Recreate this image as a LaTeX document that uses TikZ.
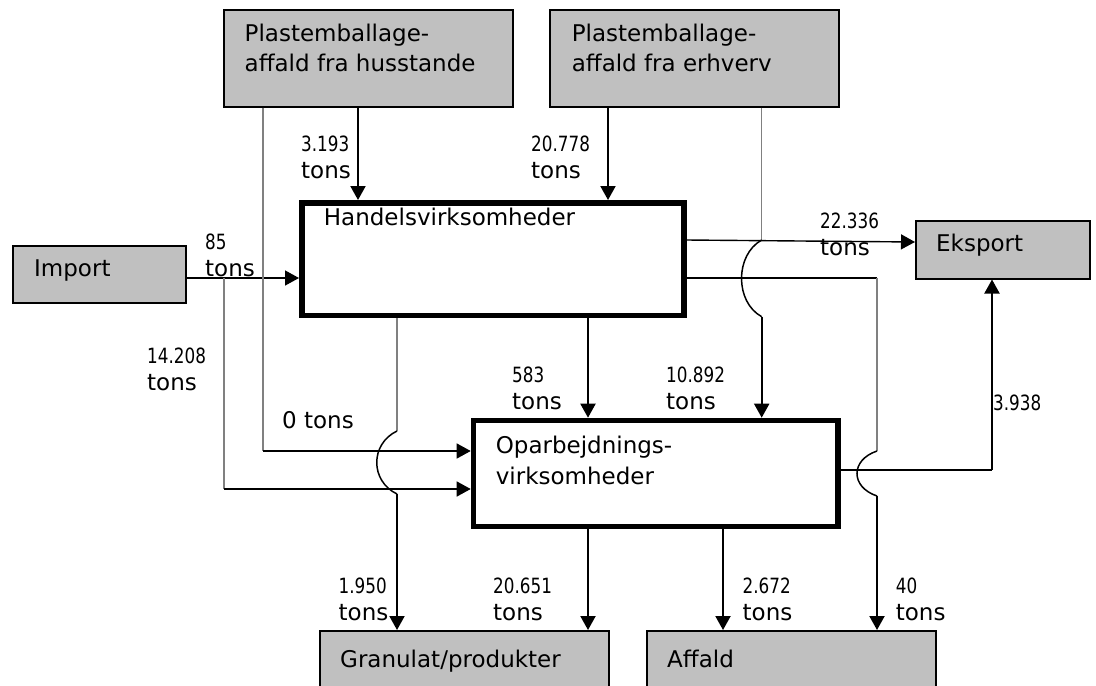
\documentclass[tikz,border=0pt]{standalone}
\usepackage{fontspec}
\setmainfont{DejaVu Sans}
\newfontfamily\numfont[FakeStretch=0.8]{DejaVu Sans}
\usetikzlibrary{arrows.meta,calc}
\definecolor{boxgray}{HTML}{C0C0C0}
\definecolor{linegray}{HTML}{808080}
\newcommand{\amount}[1]{{\numfont\fontsize{21}{26.5}\selectfont #1}}

\begin{document}
\begin{tikzpicture}[
  x=1pt, y=-1pt,
  graybox/.style={draw, line width=1.5pt, fill=boxgray, inner sep=0pt, anchor=north west},
  mainbox/.style={draw, line width=5.5pt, fill=white, inner sep=0pt, anchor=north west},
  boxtext/.style={anchor=base west, align=left, inner sep=0pt, font=\fontsize{23}{30.5}\selectfont},
  amt/.style={anchor=base west, align=left, inner sep=0pt, font=\fontsize{23}{26.5}\selectfont},
  flow/.style={->, line width=2pt},
  thinflow/.style={->, line width=1.4pt},
  link/.style={line width=1.5pt},
  grayline/.style={draw=linegray, line width=1.3pt},
  >={Triangle[length=14pt,width=15pt]}
]
  \useasboundingbox (0,0) rectangle (1096,686);
  \clip (0,0) rectangle (1096,686);

  % Boxes
  \node[graybox, minimum width=289pt, minimum height=97pt] (hus) at (223,9) {};
  \node[graybox, minimum width=289pt, minimum height=97pt] (erh) at (549,9) {};
  \node[graybox, minimum width=173pt, minimum height=57pt] (imp) at (12,245) {};
  \node[graybox, minimum width=174pt, minimum height=58pt] (eks) at (915,220) {};
  \node[mainbox, minimum width=382pt, minimum height=112.5pt] (handel) at (299,200) {};
  \node[mainbox, minimum width=364.5pt, minimum height=105.8pt] (opar) at (470.7,417.7) {};
  \node[graybox, minimum width=289pt, minimum height=80pt] (gran) at (319,630) {};
  \node[graybox, minimum width=289pt, minimum height=80pt] (aff) at (646,630) {};

  % Box texts (base = last line)
  \node[boxtext] (husT) at (244.5,71.7) {Plastemballage-\\affald fra husstande};
  \node[boxtext] (erhT) at (571.6,71.7) {Plastemballage-\\affald fra erhverv};
  \node[boxtext] (impT) at (34,276) {Import};
  \node[boxtext] (eksT) at (936,251.7) {Eksport};
  \node[boxtext] (handelT) at (323.7,225) {Handelsvirksomheder};
  \node[boxtext] (oparT) at (495.6,484) {Oparbejdnings-\\virksomheder};
  \node[boxtext] (granT) at (340,667) {Granulat/produkter};
  \node[boxtext] (affT) at (667,667) {Affald};

  % Flows into Handelsvirksomheder
  \draw[flow] (hus.south -| 358,0) -- (handel.north -| 358,0);
  \draw[flow] (erh.south -| 608,0) -- (handel.north -| 608,0);
  \draw[thinflow] (imp.east |- 0,278) -- (handel.west |- 0,278);

  % Flows out of Handelsvirksomheder
  \draw[thinflow] (handel.east |- 0,240) -- (eks.west |- 0,242);
  \draw[flow] (handel.south -| 588,0) -- (opar.north -| 588,0);

  % Direct flows to Oparbejdningsvirksomheder
  \coordinate (impSplit) at (224,278);
  \draw[grayline] (impSplit) -- (224,489) coordinate (impTurn);
  \draw[thinflow] (impTurn) -- (opar.west |- impTurn);
  \draw[grayline] (hus.south -| 263,0) -- (263,451) coordinate (husTurn);
  \draw[thinflow] (husTurn) -- (opar.west |- husTurn);

  % Flows with jumps
  \draw[grayline] (handel.south -| 397,0) -- (397,431) coordinate (jumpA);
  \draw[link] (jumpA) .. controls (370,444) and (370,481) .. (397,494) coordinate (jumpB);
  \draw[flow] (jumpB) -- (gran.north -| jumpB);

  \draw[grayline] (erh.south -| 761.7,0) -- (761.7,240) coordinate (jumpC);
  \draw[link] (jumpC) .. controls (734.8,255) and (734.8,302) .. (761.7,316.7) coordinate (jumpD);
  \draw[flow] (jumpD) -- (opar.north -| jumpD);

  \draw[link] (handel.east |- 0,278) -- (877,278) coordinate (hRight);
  \draw[grayline] (hRight) -- (877,451) coordinate (jumpE);
  \draw[link] (jumpE) .. controls (850.3,460) and (850.3,487) .. (877,496) coordinate (jumpF);
  \draw[flow] (jumpF) -- (aff.north -| jumpF);

  % Flows out of Oparbejdningsvirksomheder
  \draw[link] (opar.east |- 0,470) -- (992,470) coordinate (eksTurn);
  \draw[flow] (eksTurn) -- (eks.south -| eksTurn);
  \draw[flow] (opar.south -| 588,0) -- (gran.north -| 588,0);
  \draw[flow] (opar.south -| 723,0) -- (aff.north -| 723,0);

  % Amounts (base = last line)
  \node[amt] (qHus) at (301,178) {\amount{3.193}\\tons};
  \node[amt] (qErh) at (531,178) {\amount{20.778}\\tons};
  \node[amt] (qImp) at (205,276) {\amount{85}\\tons};
  \node[amt] (qEks) at (820,255) {\amount{22.336}\\tons};
  \node[amt] (qImpOpar) at (147,390) {\amount{14.208}\\tons};
  \node[amt] (qHusOpar) at (282,428) {0 tons};
  \node[amt] (qHandelOpar) at (512,409) {\amount{583}\\tons};
  \node[amt] (qErhOpar) at (666,409) {\amount{10.892}\\tons};
  \node[amt] (qOparEks) at (993,410) {\amount{3.938}};
  \node[amt] (qHandelGran) at (338.5,620) {\amount{1.950}\\tons};
  \node[amt] (qOparGran) at (493,620) {\amount{20.651}\\tons};
  \node[amt] (qOparAff) at (742.5,620) {\amount{2.672}\\tons};
  \node[amt] (qHandelAff) at (895.7,620) {\amount{40}\\tons};
\end{tikzpicture}
\end{document}
